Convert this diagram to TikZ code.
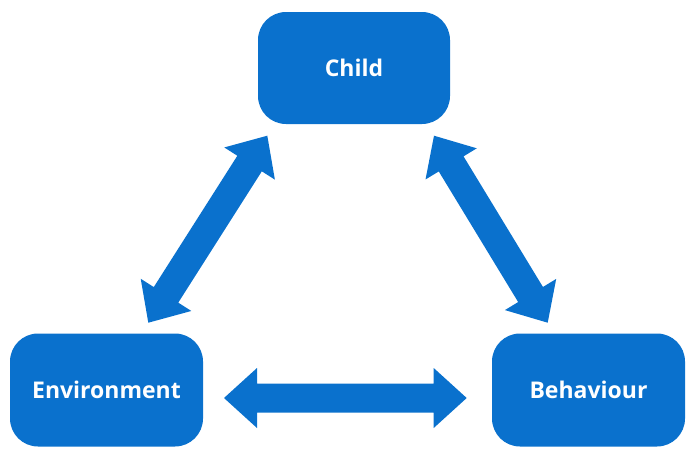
\documentclass[tikz,border=0pt]{standalone}
\usepackage{fontspec}
\setmainfont{Open Sans}
\usetikzlibrary{calc}
\definecolor{boxblue}{RGB}{10,113,205}
\tikzset{
  box/.style={fill=boxblue, rounded corners=28pt, minimum width=193pt,
    minimum height=113pt, text=white, inner sep=0pt,
    font=\bfseries\fontsize{23}{27}\selectfont},
  blockarrow/.style={fill=boxblue, draw=none}
}
\newcommand{\dblblock}[2]{%
  \coordinate (h1) at ($(#1)!33pt!(#2)$);
  \coordinate (h2) at ($(#2)!33pt!(#1)$);
  \fill[blockarrow] (#1) -- ($(h1)!30pt!90:(#2)$) -- ($(h1)!14.5pt!90:(#2)$)
    -- ($(h2)!14.5pt!-90:(#1)$) -- ($(h2)!30pt!-90:(#1)$) -- (#2)
    -- ($(h2)!30pt!90:(#1)$) -- ($(h2)!14.5pt!90:(#1)$)
    -- ($(h1)!14.5pt!-90:(#2)$) -- ($(h1)!30pt!-90:(#2)$) -- cycle;}
\begin{document}
\begin{tikzpicture}[x=1pt,y=-1pt]
\useasboundingbox (0,0) rectangle (696,458);
\node[box, minimum width=192pt, minimum height=112pt] (child) at (354,68) {Child};
\node[box] (env) at (106.5,390) {Environment};
\node[box] (beh) at (588.5,390) {Behaviour};
% arrow ends
\coordinate (ca) at (267.3,135.7);
\coordinate (ea) at (148.3,322.7);
\coordinate (cb) at (434,135.7);
\coordinate (ba) at (547.7,322.7);
\coordinate (eb) at (224,398);
\coordinate (bb) at (466.7,398);
\dblblock{ea}{ca}
\dblblock{cb}{ba}
\dblblock{eb}{bb}
\end{tikzpicture}
\end{document}
